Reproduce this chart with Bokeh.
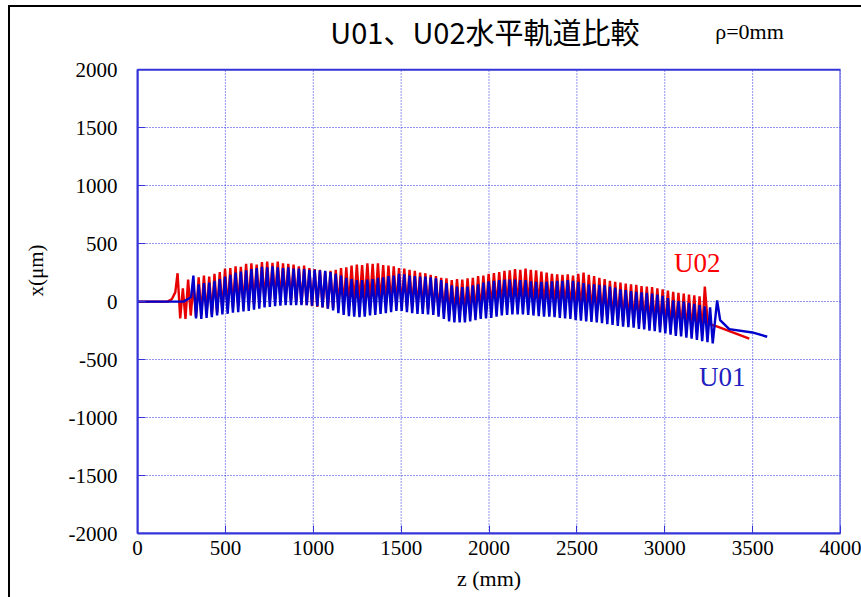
from bokeh.plotting import figure
from bokeh.models import Range1d, Label, FixedTicker, BoxAnnotation
from bokeh.embed import file_html
from bokeh.resources import INLINE

# ---------------- data ----------------
x_ticks = [0, 500, 1000, 1500, 2000, 2500, 3000, 3500, 4000]
y_ticks = [-2000, -1500, -1000, -500, 0, 500, 1000, 1500, 2000]
x_lim = (0, 4000)
y_lim = (-2000, 2000)

# U02 (red)
U02_lead_z = [0, 170, 195, 215]
U02_lead_x = [0, 0, 20, 80]
U02_peak_z = [228, 258, 288, 318, 348, 378, 408, 438, 468, 498,
              528, 558, 588, 618, 648, 678, 708, 738, 768, 798,
              828, 858, 888, 918, 948, 978, 1008, 1038, 1068, 1098,
              1128, 1158, 1188, 1218, 1248, 1278, 1308, 1338, 1368, 1398,
              1428, 1458, 1488, 1518, 1548, 1578, 1608, 1638, 1668, 1698,
              1728, 1758, 1788, 1818, 1848, 1878, 1908, 1938, 1968, 1998,
              2028, 2058, 2088, 2118, 2148, 2178, 2208, 2238, 2268, 2298,
              2328, 2358, 2388, 2418, 2448, 2478, 2508, 2538, 2568, 2598,
              2628, 2658, 2688, 2718, 2748, 2778, 2808, 2838, 2868, 2898,
              2928, 2958, 2988, 3018, 3048, 3078, 3108, 3138, 3168, 3198,
              3228]
U02_peak_x = [245, 115, 190, 150, 210, 225, 215, 240, 255, 285,
              290, 305, 300, 325, 330, 320, 340, 345, 335, 345,
              330, 325, 320, 305, 310, 290, 280, 275, 260, 265,
              275, 290, 295, 310, 320, 315, 330, 325, 330, 315,
              310, 305, 290, 285, 275, 265, 250, 245, 230, 220,
              205, 200, 185, 195, 190, 200, 205, 220, 225, 240,
              245, 255, 265, 270, 280, 275, 285, 275, 270, 260,
              250, 240, 235, 230, 235, 225, 240, 250, 230, 220,
              205, 195, 180, 170, 165, 155, 150, 145, 135, 130,
              125, 115, 105, 95, 85, 75, 70, 60, 55, 45,
              130]
U02_trough_z = [243, 273, 303, 333, 363, 393, 423, 453, 483, 513,
                543, 573, 603, 633, 663, 693, 723, 753, 783, 813,
                843, 873, 903, 933, 963, 993, 1023, 1053, 1083, 1113,
                1143, 1173, 1203, 1233, 1263, 1293, 1323, 1353, 1383, 1413,
                1443, 1473, 1503, 1533, 1563, 1593, 1623, 1653, 1683, 1713,
                1743, 1773, 1803, 1833, 1863, 1893, 1923, 1953, 1983, 2013,
                2043, 2073, 2103, 2133, 2163, 2193, 2223, 2253, 2283, 2313,
                2343, 2373, 2403, 2433, 2463, 2493, 2523, 2553, 2583, 2613,
                2643, 2673, 2703, 2733, 2763, 2793, 2823, 2853, 2883, 2913,
                2943, 2973, 3003, 3033, 3063, 3093, 3123, 3153, 3183, 3213]
U02_trough_x = [-145, -150, -120, -130, -110, -105, -110, -95, -80, -60,
                -50, -40, -35, -25, -20, -5, 5, 15, 25, 30,
                20, 10, 0, -20, -30, -40, -45, -50, -60, -55,
                -50, -40, -35, -25, -20, -15, -15, -20, -20, -25,
                -30, -35, -40, -40, -45, -55, -60, -65, -75, -85,
                -100, -110, -115, -110, -110, -100, -95, -85, -70, -60,
                -50, -40, -35, -30, -30, -30, -35, -40, -40, -40,
                -35, -30, -40, -45, -50, -60, -70, -85, -100, -115,
                -130, -145, -160, -165, -170, -175, -180, -185, -190, -200,
                -205, -215, -225, -235, -240, -250, -255, -260, -265, -270]
U02_tail_z = [3245, 3300, 3481]
U02_tail_x = [-190, -215, -320]

# U01 (blue)
U01_lead_z = [0, 262, 290, 305]
U01_lead_x = [0, 0, 25, 40]
U01_peak_z = [318, 348, 378, 408, 438, 468, 498, 528, 558, 588,
              618, 648, 678, 708, 738, 768, 798, 828, 858, 888,
              918, 948, 978, 1008, 1038, 1068, 1098, 1128, 1158, 1188,
              1218, 1248, 1278, 1308, 1338, 1368, 1398, 1428, 1458, 1488,
              1518, 1548, 1578, 1608, 1638, 1668, 1698, 1728, 1758, 1788,
              1818, 1848, 1878, 1908, 1938, 1968, 1998, 2028, 2058, 2088,
              2118, 2148, 2178, 2208, 2238, 2268, 2298, 2328, 2358, 2388,
              2418, 2448, 2478, 2508, 2538, 2568, 2598, 2628, 2658, 2688,
              2718, 2748, 2778, 2808, 2838, 2868, 2898, 2928, 2958, 2988,
              3018, 3048, 3078, 3108, 3138, 3168, 3198, 3228, 3258]
U01_peak_x = [225, 150, 160, 165, 180, 195, 215, 230, 250, 260,
              270, 280, 290, 300, 295, 305, 295, 290, 295, 285,
              285, 280, 275, 275, 270, 265, 255, 240, 225, 205,
              195, 185, 185, 190, 195, 205, 210, 220, 225, 240,
              235, 225, 220, 215, 215, 210, 200, 185, 160, 140,
              130, 125, 130, 140, 150, 165, 175, 180, 185, 190,
              190, 190, 185, 185, 175, 170, 170, 170, 175, 180,
              180, 185, 180, 170, 160, 150, 150, 145, 140, 130,
              120, 105, 100, 90, 85, 80, 75, 70, 60, 50,
              30, 10, 5, 0, -10, -20, -30, -40, -50]
U01_trough_z = [333, 363, 393, 423, 453, 483, 513, 543, 573, 603,
                633, 663, 693, 723, 753, 783, 813, 843, 873, 903,
                933, 963, 993, 1023, 1053, 1083, 1113, 1143, 1173, 1203,
                1233, 1263, 1293, 1323, 1353, 1383, 1413, 1443, 1473, 1503,
                1533, 1563, 1593, 1623, 1653, 1683, 1713, 1743, 1773, 1803,
                1833, 1863, 1893, 1923, 1953, 1983, 2013, 2043, 2073, 2103,
                2133, 2163, 2193, 2223, 2253, 2283, 2313, 2343, 2373, 2403,
                2433, 2463, 2493, 2523, 2553, 2583, 2613, 2643, 2673, 2703,
                2733, 2763, 2793, 2823, 2853, 2883, 2913, 2943, 2973, 3003,
                3033, 3063, 3093, 3123, 3153, 3183, 3213, 3243, 3273]
U01_trough_x = [-145, -150, -140, -135, -120, -110, -105, -95, -90, -85,
                -80, -70, -60, -50, -45, -40, -35, -30, -30, -30,
                -30, -30, -35, -40, -50, -60, -75, -100, -115, -125,
                -130, -135, -130, -120, -115, -105, -100, -90, -80, -80,
                -90, -100, -105, -105, -110, -115, -130, -150, -170, -180,
                -180, -180, -170, -160, -150, -145, -140, -130, -120, -115,
                -110, -110, -110, -115, -120, -125, -130, -130, -135, -140,
                -145, -150, -160, -165, -170, -175, -180, -185, -195, -200,
                -210, -215, -220, -225, -235, -240, -250, -255, -265, -275,
                -285, -295, -300, -310, -320, -330, -340, -350, -360]
U01_tail_z = [3298, 3315, 3367, 3498, 3583]
U01_tail_x = [10, -159, -237, -266, -303]


def build(lead_z, lead_x, pz, px, tz, tx, tail_z, tail_x):
    z = list(lead_z)
    x = list(lead_x)
    for i in range(len(pz)):
        z.append(pz[i]); x.append(px[i])
        if i < len(tz):
            z.append(tz[i]); x.append(tx[i])
    z += tail_z
    x += tail_x
    return z, x


u02_z, u02_x = build(U02_lead_z, U02_lead_x, U02_peak_z, U02_peak_x,
                     U02_trough_z, U02_trough_x, U02_tail_z, U02_tail_x)
u01_z, u01_x = build(U01_lead_z, U01_lead_x, U01_peak_z, U01_peak_x,
                     U01_trough_z, U01_trough_x, U01_tail_z, U01_tail_x)

# ---------------- figure ----------------
BLUE_AX = "#3434d8"
SERIF = "Liberation Serif"

# The plotting frame is extended upwards so that the heading texts sit inside it;
# the visible box is drawn at the data limits.
FRAME_PX = 462           # pixel height of the box from y_lim[0] to y_lim[1]
TOP_PX = 62              # pixels of heading area above the box
y_top = y_lim[1] + TOP_PX * (y_lim[1] - y_lim[0]) / FRAME_PX

p = figure(width=853, height=592, title=None,
           x_range=Range1d(*x_lim), y_range=Range1d(y_lim[0], y_top),
           output_backend="svg", toolbar_location=None,
           min_border_left=127, min_border_right=23,
           min_border_top=0, min_border_bottom=66)
p.styles = {"margin-left": "8px", "margin-top": "5px",
            "border-left": "2px solid black", "border-top": "2px solid black",
            "box-sizing": "border-box"}

p.outline_line_color = None
p.background_fill_color = "white"
p.border_fill_color = "white"

p.xaxis.ticker = FixedTicker(ticks=x_ticks)
p.yaxis.ticker = FixedTicker(ticks=y_ticks)
p.yaxis.bounds = y_lim
p.xaxis.major_label_overrides = {t: str(t) for t in x_ticks}
p.yaxis.major_label_overrides = {t: str(t) for t in y_ticks}
for ax in (p.xaxis[0], p.yaxis[0]):
    ax.axis_line_color = BLUE_AX
    ax.axis_line_width = 2
    ax.major_tick_line_color = BLUE_AX
    ax.major_tick_line_width = 1
    ax.major_tick_in = 8
    ax.major_tick_out = 0
    ax.minor_tick_line_color = None
    ax.major_label_text_font = SERIF
    ax.major_label_text_font_size = "21px"
    ax.major_label_text_color = "black"
    ax.axis_label_text_font = SERIF
    ax.axis_label_text_font_style = "normal"
    ax.axis_label_text_color = "black"

p.xaxis.major_label_standoff = 7
p.yaxis.major_label_standoff = 20
p.xaxis.axis_label = "z (mm)"
p.xaxis.axis_label_text_font_size = "22px"
p.xaxis.axis_label_standoff = 8
p.yaxis.axis_label = "x(μm)"
p.yaxis.axis_label_text_font_size = "21px"
p.yaxis.axis_label_standoff = 18

GRID_COL = "#2a2ae0"
p.ygrid.grid_line_color = GRID_COL
p.ygrid.grid_line_width = 1
p.ygrid.grid_line_dash = "1 2"
p.xgrid.visible = False
# vertical grid lines limited to the box
p.segment(x0=x_ticks, y0=[y_lim[0]] * len(x_ticks), x1=x_ticks,
          y1=[y_lim[1]] * len(x_ticks), line_color=GRID_COL,
          line_width=1, line_dash="1 2")

p.line(u02_z, u02_x, line_color="#e80000", line_width=2.4)
p.line(u01_z, u01_x, line_color="#0000cc", line_width=2.4)

# plot box
p.add_layout(BoxAnnotation(left=x_lim[0], right=x_lim[1],
                           bottom=y_lim[0], top=y_lim[1],
                           fill_alpha=0, fill_color=None,
                           line_color=BLUE_AX, line_width=2, line_alpha=1))

p.add_layout(Label(x=1977, y=2330, text="U01、U02水平軌道比較",
                   text_font="Noto Sans CJK JP", text_font_size="29px",
                   text_align="center", text_baseline="middle",
                   text_color="black"))
p.add_layout(Label(x=3287, y=2330, text="ρ=0mm",
                   text_font=SERIF, text_font_size="22px",
                   text_align="left", text_baseline="middle",
                   text_color="black"))
p.add_layout(Label(x=3053, y=329, text="U02",
                   text_font=SERIF, text_font_size="27px",
                   text_align="left", text_baseline="middle",
                   text_color="#ff0000"))
p.add_layout(Label(x=3195, y=-650, text="U01",
                   text_font=SERIF, text_font_size="27px",
                   text_align="left", text_baseline="middle",
                   text_color="#2020c0"))

open("out.html", "w").write(file_html(p, INLINE))
